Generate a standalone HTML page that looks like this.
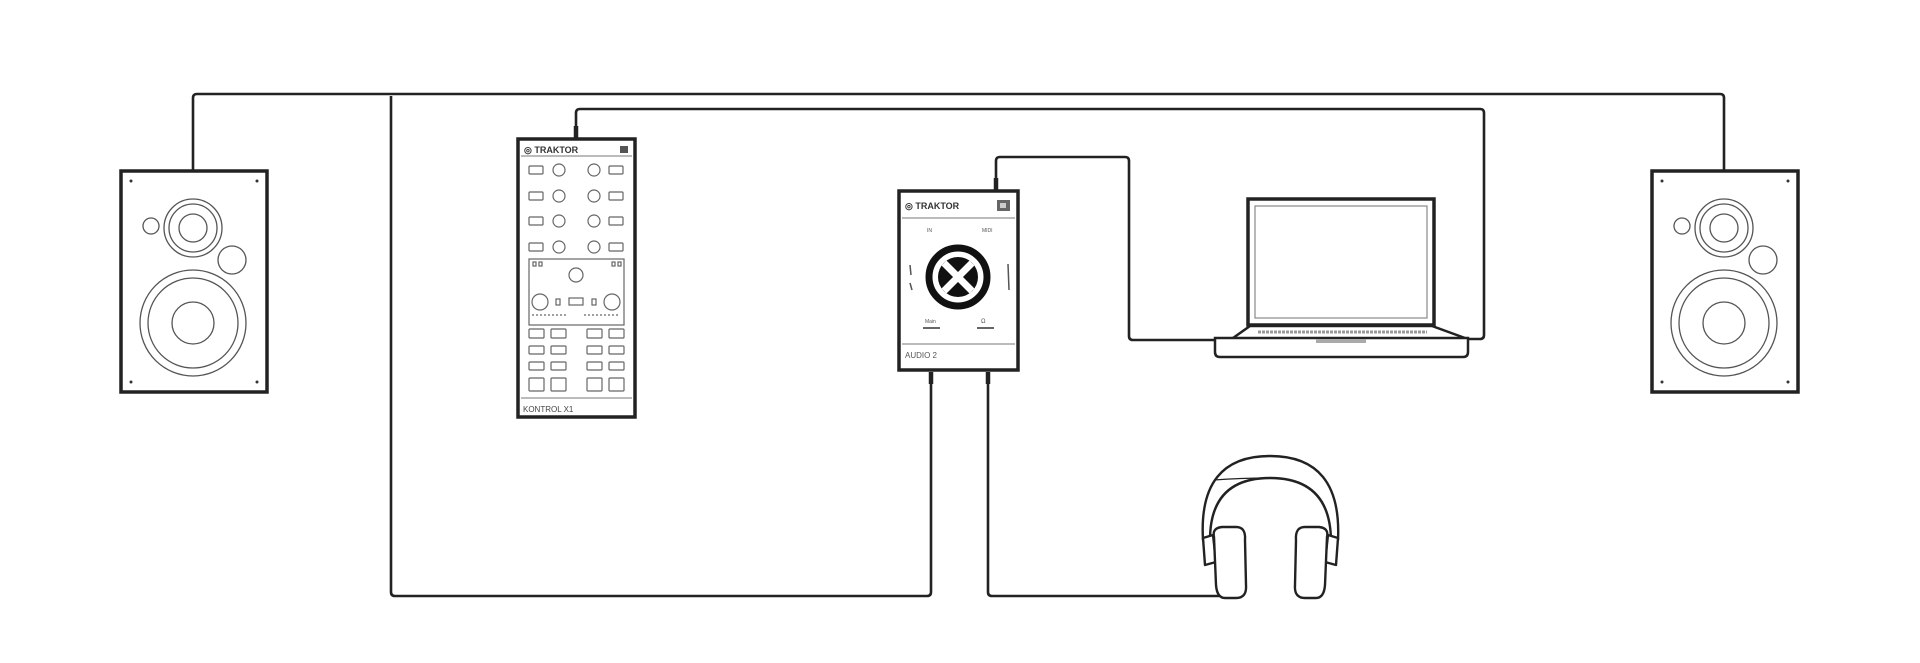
<!DOCTYPE html>
<html><head><meta charset="utf-8"><style>
html,body{margin:0;padding:0;background:#fff;}
svg{display:block;}
text{font-family:"Liberation Sans",sans-serif;}
</style></head><body>
<svg width="1920" height="663" viewBox="0 0 1920 663" xmlns="http://www.w3.org/2000/svg">
<defs>
<g id="spk">
  <rect x="0" y="0" width="146" height="221" fill="#fff" stroke="#222" stroke-width="3.5"/>
  <circle cx="10" cy="10" r="1.5" fill="#333"/><circle cx="136" cy="10" r="1.5" fill="#333"/>
  <circle cx="10" cy="211" r="1.5" fill="#333"/><circle cx="136" cy="211" r="1.5" fill="#333"/>
  <g fill="none" stroke="#555" stroke-width="1.3">
    <circle cx="72" cy="57" r="29"/><circle cx="72" cy="57" r="24"/><circle cx="72" cy="57" r="14"/>
    <circle cx="30" cy="55" r="8"/><circle cx="111" cy="89" r="14"/>
    <circle cx="72" cy="152" r="53"/><circle cx="72" cy="152" r="45"/><circle cx="72" cy="152" r="21"/>
  </g>
</g>
</defs>
<g fill="none" stroke="#222" stroke-width="2.6" stroke-linejoin="round">
  <!-- top long cable -->
  <path d="M193 171 V98 Q193 94 197 94 H1720 Q1724 94 1724 98 V171"/>
  <path d="M391 96 V592 Q391 596 395 596 H927 Q931 596 931 592 V372"/>
  <!-- second line -->
  <path d="M576 138 V113 Q576 109 580 109 H1480 Q1484 109 1484 113 V335 Q1484 339 1480 339 H1464"/>
  <!-- audio to laptop -->
  <path d="M996 190 V161 Q996 157 1000 157 H1125 Q1129 157 1129 161 V336 Q1129 340 1133 340 H1232"/>
  <!-- headphone cable -->
  <path d="M988 372 V592 Q988 596 992 596 H1224"/>
</g>
<g stroke="#222" stroke-width="4.5"><line x1="576" y1="126" x2="576" y2="138"/><line x1="996" y1="178" x2="996" y2="190"/>
<line x1="931" y1="372" x2="931" y2="384"/><line x1="988" y1="372" x2="988" y2="384"/></g>

<use href="#spk" x="121" y="171"/>
<use href="#spk" x="1652" y="171"/>

<!-- Kontrol X1 -->
<g>
  <rect x="518" y="139" width="117" height="278" fill="#fff" stroke="#222" stroke-width="3.5"/>
  <line x1="521" y1="156" x2="632" y2="156" stroke="#777" stroke-width="1"/>
  <text x="524" y="153" font-size="9" font-weight="bold" fill="#333">◎ TRAKTOR</text>
  <rect x="620" y="146" width="8" height="7" fill="#555"/>
  <g fill="none" stroke="#666" stroke-width="1.2">
    <rect x="529" y="166" width="14" height="8" rx="1"/><rect x="609" y="166" width="14" height="8" rx="1"/>
    <rect x="529" y="192" width="14" height="8" rx="1"/><rect x="609" y="192" width="14" height="8" rx="1"/>
    <rect x="529" y="217" width="14" height="8" rx="1"/><rect x="609" y="217" width="14" height="8" rx="1"/>
    <rect x="529" y="243" width="14" height="8" rx="1"/><rect x="609" y="243" width="14" height="8" rx="1"/>
    <circle cx="559" cy="170" r="6"/><circle cx="594" cy="170" r="6"/>
    <circle cx="559" cy="196" r="6"/><circle cx="594" cy="196" r="6"/>
    <circle cx="559" cy="221" r="6"/><circle cx="594" cy="221" r="6"/>
    <circle cx="559" cy="247" r="6"/><circle cx="594" cy="247" r="6"/>
    <rect x="529" y="259" width="95" height="66"/>
    <circle cx="576" cy="275" r="7"/><circle cx="540" cy="302" r="8"/><circle cx="612" cy="302" r="8"/>
    <rect x="569" y="298" width="14" height="7"/><rect x="556" y="299" width="4" height="6"/><rect x="592" y="299" width="4" height="6"/>
    <rect x="533" y="262" width="3" height="4"/><rect x="539" y="262" width="3" height="4"/><rect x="612" y="262" width="3" height="4"/><rect x="618" y="262" width="3" height="4"/>
    <line x1="532" y1="315" x2="568" y2="315" stroke-dasharray="2 2"/><line x1="584" y1="315" x2="620" y2="315" stroke-dasharray="2 2"/>
  </g>
  <g fill="none" stroke="#666" stroke-width="1.2">
    <rect x="529" y="329" width="15" height="9" rx="1"/><rect x="551" y="329" width="15" height="9" rx="1"/><rect x="587" y="329" width="15" height="9" rx="1"/><rect x="609" y="329" width="15" height="9" rx="1"/>
    <rect x="529" y="346" width="15" height="8" rx="1"/><rect x="551" y="346" width="15" height="8" rx="1"/><rect x="587" y="346" width="15" height="8" rx="1"/><rect x="609" y="346" width="15" height="8" rx="1"/>
    <rect x="529" y="362" width="15" height="8" rx="1"/><rect x="551" y="362" width="15" height="8" rx="1"/><rect x="587" y="362" width="15" height="8" rx="1"/><rect x="609" y="362" width="15" height="8" rx="1"/>
    <rect x="529" y="378" width="15" height="13" rx="1"/><rect x="551" y="378" width="15" height="13" rx="1"/><rect x="587" y="378" width="15" height="13" rx="1"/><rect x="609" y="378" width="15" height="13" rx="1"/>
  </g>
  <line x1="521" y1="398" x2="632" y2="398" stroke="#777" stroke-width="1"/>
  <text x="523" y="412" font-size="8" fill="#444">KONTROL X1</text>
</g>

<!-- Audio 2 -->
<g>
  <rect x="899" y="191" width="119" height="179" fill="#fff" stroke="#222" stroke-width="3.5"/>
  <text x="905" y="209" font-size="9" font-weight="bold" fill="#333">◎ TRAKTOR</text>
  <rect x="997" y="200" width="13" height="11" fill="#666"/><rect x="1000" y="203" width="6" height="5" fill="#ccc"/>
  <line x1="902" y1="218" x2="1015" y2="218" stroke="#777" stroke-width="1"/>
  <text x="927" y="232" font-size="5" fill="#555">IN</text><text x="982" y="232" font-size="5" fill="#555">MIDI</text>
  <circle cx="958" cy="277" r="29" fill="#fff" stroke="#111" stroke-width="7"/>
  <circle cx="958" cy="277" r="20" fill="#111"/>
  <path d="M944 263 L972 291 M972 263 L944 291" stroke="#fff" stroke-width="7"/>
  <line x1="910" y1="265" x2="911" y2="275" stroke="#555" stroke-width="1.5"/><line x1="910" y1="283" x2="912" y2="290" stroke="#555" stroke-width="1.5"/>
  <line x1="1008" y1="264" x2="1009" y2="290" stroke="#555" stroke-width="1.5"/>
  <text x="925" y="323" font-size="5" fill="#555">Main</text><rect x="923" y="327" width="17" height="2" fill="#666"/>
  <text x="981" y="323" font-size="6" fill="#555">Ω</text><rect x="977" y="327" width="17" height="2" fill="#666"/>
  <line x1="902" y1="344" x2="1015" y2="344" stroke="#777" stroke-width="1"/>
  <text x="905" y="358" font-size="8" fill="#555">AUDIO 2</text>
</g>

<!-- Laptop -->
<g>
  <rect x="1248" y="199" width="186" height="126" fill="#fff" stroke="#222" stroke-width="3.5"/>
  <rect x="1255" y="206" width="172" height="112" fill="none" stroke="#888" stroke-width="1.2"/>
  <path d="M1233 338 L1250 326 H1432 L1465 338" fill="#fff" stroke="#222" stroke-width="2.5"/>
  <path d="M1215 338 H1468 V352 Q1468 357 1463 357 H1220 Q1215 357 1215 352 Z" fill="#fff" stroke="#222" stroke-width="2.5"/>
  <line x1="1258" y1="332" x2="1427" y2="332" stroke="#999" stroke-width="3" stroke-dasharray="3 1"/>
  <rect x="1316" y="339" width="50" height="4" fill="#aaa"/>
</g>

<!-- Headphones -->
<g fill="#fff" stroke="#222" stroke-width="2.4" stroke-linejoin="round">
  <path d="M1203 540 Q1198 456 1270 456 Q1342 456 1338 540 L1331 540 Q1330 478 1270 478 Q1210 478 1210 540 Z"/>
  <path d="M1214 480 Q1240 478 1270 478" fill="none" stroke-width="1.2"/>
  <path d="M1203 538 L1213 535 L1216 562 L1205 565 Z"/>
  <path d="M1338 538 L1328 535 L1325 562 L1336 565 Z"/>
  <path d="M1214 537 Q1212 528 1222 527 L1236 527 Q1246 527 1245 540 L1246 585 Q1247 598 1236 598 L1225 598 Q1217 598 1216 585 Z"/>
  <path d="M1327 537 Q1329 528 1319 527 L1305 527 Q1295 527 1296 540 L1295 585 Q1294 598 1305 598 L1316 598 Q1324 598 1325 585 Z"/>
</g>
</svg>
</body></html>
